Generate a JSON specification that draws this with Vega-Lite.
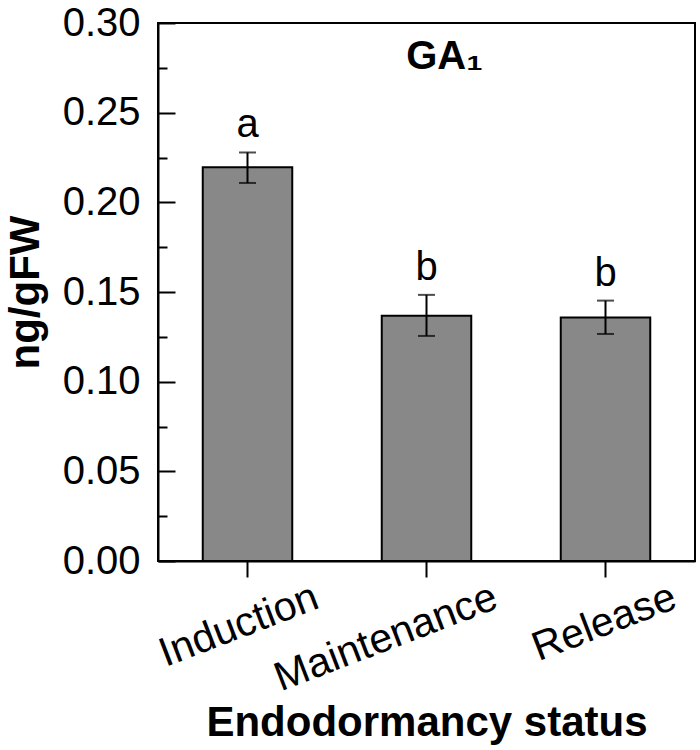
{
  "$schema": "https://vega.github.io/schema/vega-lite/v6.json",
  "autosize": {"type": "none"},
  "padding": {"left": 158, "top": 23, "right": 5, "bottom": 189},
  "width": 537,
  "height": 538,
  "background": "white",
  "config": {"font": "Liberation Sans", "view": {"stroke": "black", "strokeWidth": 2}},
  "title": {"text": "GA₁", "fontSize": 40, "fontWeight": "bold", "color": "black", "anchor": "middle", "dx": 18, "dy": 106, "offset": 0, "baseline": "alphabetic"},
  "data": {"values": [
    {"status": "Induction", "mean": 0.2195, "lo": 0.2108, "hi": 0.2278, "sig": "a"},
    {"status": "Maintenance", "mean": 0.1368, "lo": 0.1255, "hi": 0.1484, "sig": "b"},
    {"status": "Release", "mean": 0.1358, "lo": 0.1266, "hi": 0.1452, "sig": "b"}
  ]},
  "encoding": {
    "x": {"field": "status", "type": "nominal", "sort": null,
      "scale": {"paddingInner": 0.5, "paddingOuter": 0.25},
      "axis": {"title": "Endodormancy status", "titleFontSize": 42, "titleFontWeight": "bold", "titleColor": "black", "titleBaseline": "alphabetic", "titleY": 174,
        "labelFontSize": 41, "labelColor": "black", "labelAngle": -21, "labelAlign": "right", "labelBaseline": "top", "labelOffset": 62, "labelPadding": 0, "labelLimit": 0,
        "tickSize": 16, "tickWidth": 2, "tickColor": "black", "domainColor": "black", "domainWidth": 2}}
  },
  "layer": [
    {"mark": {"type": "bar", "fill": "#888888", "stroke": "black", "strokeWidth": 2},
     "encoding": {"y": {"field": "mean", "type": "quantitative", "scale": {"domain": [0, 0.3], "nice": false},
       "axis": {"title": "ng/gFW", "titleFontSize": 42, "titleFontWeight": "bold", "titleColor": "black", "titlePadding": 15,
         "values": [0, 0.025, 0.05, 0.075, 0.1, 0.125, 0.15, 0.175, 0.2, 0.225, 0.25, 0.275, 0.3],
         "labelExpr": "round(datum.value*1000) % 50 == 0 ? format(datum.value, '.2f') : ''",
         "labelFontSize": 40, "labelColor": "black", "labelPadding": 35,
         "tickSize": {"condition": {"test": "round(datum.value*1000) % 50 != 0", "value": -9}, "value": -17},
         "tickWidth": 2, "tickColor": "black", "domainColor": "black", "domainWidth": 2, "grid": false}}}},
    {"mark": {"type": "rule", "color": "black", "strokeWidth": 2},
     "encoding": {"y": {"field": "lo", "type": "quantitative", "title": "ng/gFW"}, "y2": {"field": "hi"}}},
    {"mark": {"type": "tick", "color": "black", "thickness": 2, "size": 17},
     "encoding": {"y": {"field": "hi", "type": "quantitative", "title": "ng/gFW"}}},
    {"mark": {"type": "tick", "color": "black", "thickness": 2, "size": 17},
     "encoding": {"y": {"field": "lo", "type": "quantitative", "title": "ng/gFW"}}},
    {"mark": {"type": "text", "fontSize": 40, "baseline": "alphabetic", "dy": -15, "color": "black"},
     "encoding": {"y": {"field": "hi", "type": "quantitative", "title": "ng/gFW"}, "text": {"field": "sig"}}}
  ]
}
